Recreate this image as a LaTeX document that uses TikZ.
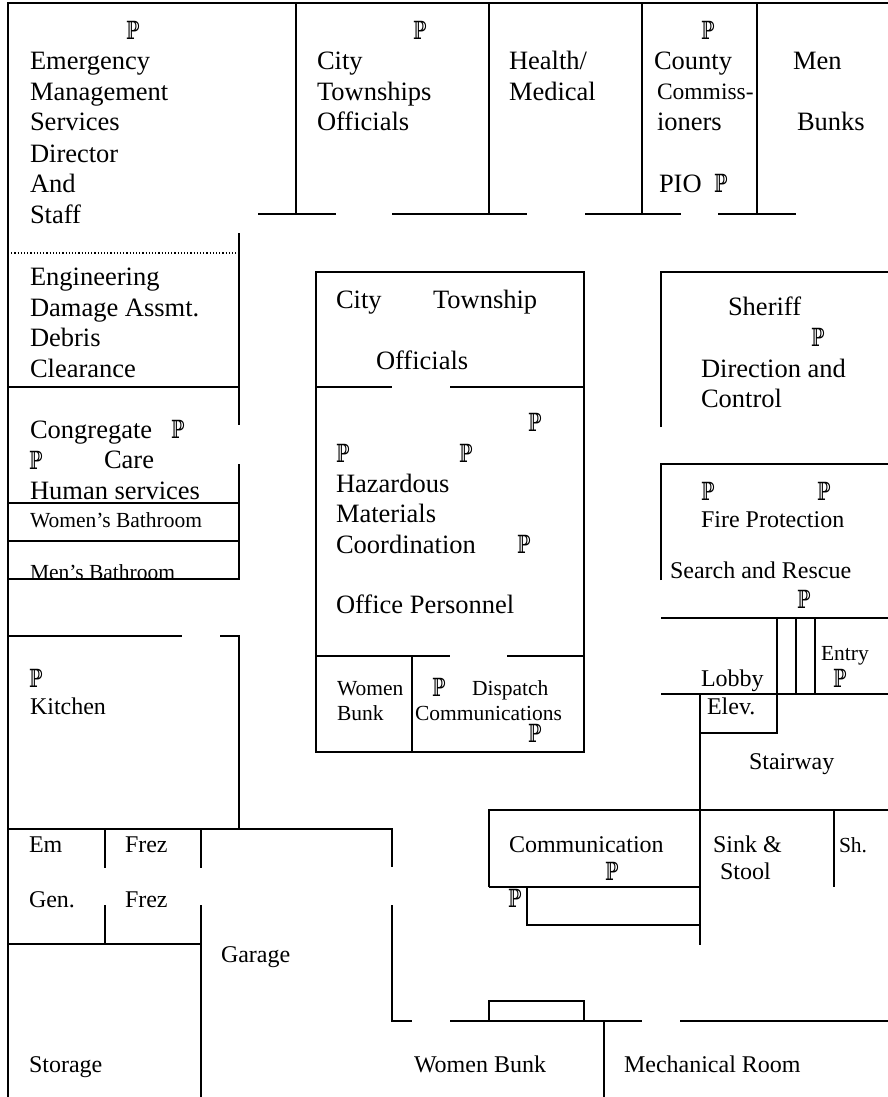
\documentclass[tikz,border=0pt]{standalone}
\usepackage{graphicx}
\usepackage{fontspec}
\setmainfont{Liberation Serif}
\newfontfamily\dsfont{DejaVu Serif}
\tikzset{
  wall/.style={line width=1.5pt,line cap=butt,black},
  big/.style={anchor=base west,inner sep=0pt,outer sep=0pt,font=\fontsize{26.5}{26.5}\selectfont},
  mid/.style={anchor=base west,inner sep=0pt,outer sep=0pt,font=\fontsize{24}{24}\selectfont},
  small/.style={anchor=base west,inner sep=0pt,outer sep=0pt,font=\fontsize{21.5}{21.5}\selectfont},
  mark p/.style={anchor=base west,inner sep=0pt,outer sep=0pt,font=\dsfont\fontsize{25}{25}\selectfont}
}
\newcommand{\PP}{\scalebox{.72}[1]{ℙ}}
\begin{document}
\begin{tikzpicture}[x=1pt,y=-1pt]
\useasboundingbox (0,0) rectangle (888,1097);
% outer
\draw[wall] (8,1097) -- (8,3) -- (888,3);
% top rooms
\foreach \x in {296,489,642,757} \draw[wall] (\x,3) -- (\x,214);
\draw[wall] (258,214) -- (336,214);
\draw[wall] (392,214) -- (527,214);
\draw[wall] (585,214) -- (681,214);
\draw[wall] (718,214) -- (796,214);
% left wing
\draw[line width=1.2pt,dotted] (8,253) -- (239,253);
\draw[wall] (239,233) -- (239,425);
\draw[wall] (8,387) -- (239,387);
\draw[wall] (239,464) -- (239,580);
\draw[wall] (8,503) -- (239,503);
\draw[wall] (8,541) -- (239,541);
\draw[wall] (8,579) -- (239,579);
\draw[wall] (8,636) -- (182,636);
\draw[wall] (220,636) -- (239,636) -- (239,829);
\draw[wall] (8,829) -- (392,829) -- (392,867);
\draw[wall] (105,829) -- (105,868);
\draw[wall] (105,905) -- (105,944);
\draw[wall] (201,829) -- (201,868);
\draw[wall] (201,905) -- (201,1097);
\draw[wall] (8,944) -- (201,944);
\draw[wall] (392,905) -- (392,1021) -- (412,1021);
\draw[wall] (450,1021) -- (642,1021);
\draw[wall] (680,1021) -- (888,1021);
\draw[wall] (489,1021) -- (489,1001) -- (584,1001) -- (584,1021);
\draw[wall] (604,1021) -- (604,1097);
% centre block
\draw[wall] (316,272) rectangle (584,752);
\draw[wall] (316,387) -- (392,387);
\draw[wall] (450,387) -- (584,387);
\draw[wall] (316,656) -- (450,656);
\draw[wall] (507,656) -- (584,656);
\draw[wall] (412,656) -- (412,752);
% right side
\draw[wall] (661,427) -- (661,272) -- (888,272);
\draw[wall] (661,580) -- (661,464) -- (888,464);
\draw[wall] (661,618) -- (888,618);
\draw[wall] (661,694) -- (888,694);
\draw[wall] (777,618) -- (777,733) -- (700,733);
\draw[wall] (796,618) -- (796,694);
\draw[wall] (815,618) -- (815,694);
\draw[wall] (700,694) -- (700,945);
\draw[wall] (700,810) -- (888,810);
\draw[wall] (489,887) -- (489,810) -- (700,810);
\draw[wall] (489,887) -- (700,887);
\draw[wall] (527,887) -- (527,925) -- (700,925);
\draw[wall] (834,810) -- (834,887);
% labels
\node[mark p] (p1) at (126,40) {\PP};
\node[big] (t1) at (30,70) {Emergency};
\node[big] (t2) at (30,101) {Management};
\node[big] (t3) at (30,131) {Services};
\node[big] (t4) at (30,162) {Director};
\node[big] (t5) at (30,192) {And};
\node[big] (t6) at (30,223) {Staff};
\node[mark p] (p2) at (413,40) {\PP};
\node[big] (t7) at (317,70) {City};
\node[big] (t8) at (317,101) {Townships};
\node[big] (t9) at (317,131) {Officials};
\node[big] (t10) at (509,70) {Health/};
\node[big] (t11) at (509,101) {Medical};
\node[mark p] (p3) at (701,40) {\PP};
\node[big] (t12) at (654,70) {County};
\node[mid,font=\fontsize{23.5}{23.5}\selectfont] (t13) at (657,100) {Commiss-};
\node[big] (t14) at (657,131) {ioners};
\node[big] (t15) at (659,192) {PIO};
\node[mark p] (p4) at (714,192) {\PP};
\node[big] (t16) at (793,70) {Men};
\node[big] (t17) at (797,131) {Bunks};
\node[big] (t18) at (30,285) {Engineering};
\node[big] (t19) at (30,316) {Damage Assmt.};
\node[big] (t20) at (30,346) {Debris};
\node[big] (t21) at (30,377) {Clearance};
\node[big] (t22) at (30,438) {Congregate};
\node[mark p] (p5) at (171,438) {\PP};
\node[mark p] (p6) at (29,469) {\PP};
\node[big] (t23) at (104,468) {Care};
\node[big] (t24) at (30,499) {Human services};
\node[small] (t25) at (30,527) {Women’s Bathroom};
\node[small] (t26) at (30,579) {Men’s Bathroom};
\node[mark p] (p7) at (29,687) {\PP};
\node[mid] (t27) at (30,714) {Kitchen};
\node[mid] (t28) at (29,852) {Em};
\node[mid] (t29) at (125,852) {Frez};
\node[mid] (t30) at (29,907) {Gen.};
\node[mid] (t31) at (125,907) {Frez};
\node[mid] (t32) at (221,962) {Garage};
\node[mid] (t33) at (29,1072) {Storage};
\node[mid] (t34) at (414,1072) {Women Bunk};
\node[mid] (t35) at (624,1072) {Mechanical Room};
\node[big] (t36) at (336,308) {City};
\node[big] (t37) at (433,308) {Township};
\node[big] (t38) at (376,369) {Officials};
\node[mark p] (p8) at (528,431) {\PP};
\node[mark p] (p9) at (336,462) {\PP};
\node[mark p] (p10) at (459,462) {\PP};
\node[big] (t39) at (336,492) {Hazardous};
\node[big] (t40) at (336,522) {Materials};
\node[big] (t41) at (336,553) {Coordination};
\node[mark p] (p11) at (517,553) {\PP};
\node[big] (t42) at (336,613) {Office Personnel};
\node[small] (t43) at (337,695) {Women};
\node[small] (t44) at (337,720) {Bunk};
\node[mark p] (p12) at (432,696) {\PP};
\node[small] (t45) at (472,695) {Dispatch};
\node[small] (t46) at (415,720) {Communications};
\node[mark p] (p13) at (528,742) {\PP};
\node[big] (t47) at (728,315) {Sheriff};
\node[mark p] (p14) at (811,346) {\PP};
\node[big] (t48) at (701,377) {Direction and};
\node[big] (t49) at (701,407) {Control};
\node[mark p] (p15) at (701,500) {\PP};
\node[mark p] (p16) at (817,500) {\PP};
\node[mid] (t50) at (701,527) {Fire Protection};
\node[mid] (t51) at (670,578) {Search and Rescue};
\node[mark p] (p17) at (797,608) {\PP};
\node[small] (t52) at (821,660) {Entry};
\node[mark p] (p18) at (833,687) {\PP};
\node[mid] (t53) at (701,686) {Lobby};
\node[mid] (t54) at (707,714) {Elev.};
\node[mid] (t55) at (749,769) {Stairway};
\node[mid] (t56) at (509,852) {Communication};
\node[mark p] (p19) at (605,880) {\PP};
\node[mark p] (p20) at (508,907) {\PP};
\node[mid] (t57) at (713,852) {Sink \&};
\node[mid] (t58) at (720,879) {Stool};
\node[small] (t59) at (839,852) {Sh.};
\end{tikzpicture}
\end{document}
